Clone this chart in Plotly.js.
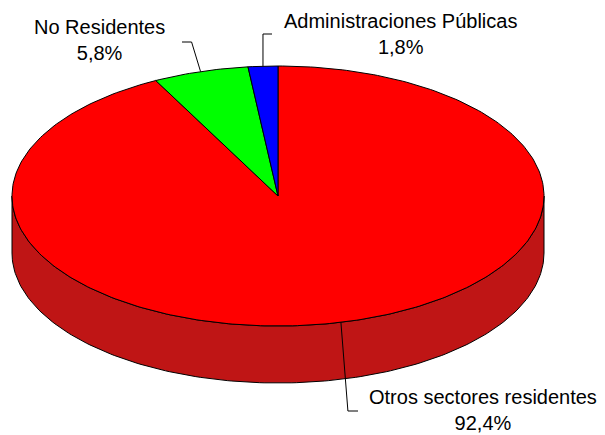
<!DOCTYPE html>
<html>
<head>
<meta charset="utf-8">
<script src="https://cdn.plot.ly/plotly-3.0.1.min.js"></script>
<style>html,body{margin:0;padding:0;background:#fff;}#chart{width:605px;height:435px;}</style>
</head>
<body>
<div id="chart"></div>
<script>
// Data
var categories = ["Otros sectores residentes", "No Residentes", "Administraciones Públicas"];
var values = [92.4, 5.8, 1.8];
var valueLabels = ["92,4%", "5,8%", "1,8%"];
var colors = ["#FF0000", "#00FF00", "#0000FF"];

// Geometry / style (layout)
var W = 605, H = 435;
var cx = 278, cy = 196, rx = 266, ry = 130, depth = 57;
var sideColor = "#BF1515";
var labelPos = [ {x: 483, y: 410}, {x: 99, y: 40}, {x: 400, y: 34} ];
var leaderEnd = [ {dx: 7, y: 411, ex: 358}, {dx: -9, y: 42, ex: 182}, {dx: 0, y: 34, ex: 272} ];

function pt(deg, dy) {
  var t = deg * Math.PI / 180;
  return [cx + rx * Math.cos(t), cy - ry * Math.sin(t) + (dy || 0)];
}
function arc(a0, a1, dy) {
  var n = Math.max(2, Math.ceil(Math.abs(a1 - a0)));
  var xs = [], ys = [];
  for (var i = 0; i <= n; i++) {
    var p = pt(a0 + (a1 - a0) * i / n, dy);
    xs.push(p[0]); ys.push(p[1]);
  }
  return [xs, ys];
}

var traces = [];
// side (front half of cylinder)
var topA = arc(180, 360, 0), botA = arc(360, 180, depth);
traces.push({
  type: "scatter", mode: "lines", fill: "toself",
  x: topA[0].concat(botA[0]).concat([topA[0][0]]),
  y: topA[1].concat(botA[1]).concat([topA[1][0]]),
  fillcolor: sideColor, line: {color: "#000", width: 1},
  hoverinfo: "skip", showlegend: false
});

// top face wedges, clockwise from 12 o'clock
var total = values.reduce(function (a, b) { return a + b; }, 0);
var start = 90;
var annotations = [];
for (var k = 0; k < values.length; k++) {
  var sweep = values[k] / total * 360;
  var end = start - sweep;
  var a = arc(start, end, 0);
  traces.push({
    type: "scatter", mode: "lines", fill: "toself",
    x: [cx].concat(a[0]).concat([cx]),
    y: [cy].concat(a[1]).concat([cy]),
    fillcolor: colors[k], line: {color: "#000", width: 1},
    hoverinfo: "skip", showlegend: false, name: categories[k]
  });
  var mid = pt((start + end) / 2, 0);
  var le = leaderEnd[k];
  traces.push({
    type: "scatter", mode: "lines",
    x: [mid[0], mid[0] + le.dx, le.ex],
    y: [mid[1], le.y, le.y],
    line: {color: "#000", width: 1},
    hoverinfo: "skip", showlegend: false
  });
  annotations.push({
    x: labelPos[k].x, y: labelPos[k].y, xref: "x", yref: "y",
    text: categories[k] + "<br>" + valueLabels[k],
    showarrow: false, xanchor: "center", yanchor: "middle", align: "center",
    font: {family: "Liberation Sans, Arial, sans-serif", size: 20, color: "#000"}
  });
  start = end;
}

var layout = {
  width: W, height: H, autosize: false,
  margin: {l: 0, r: 0, t: 0, b: 0},
  paper_bgcolor: "#fff", plot_bgcolor: "#fff",
  xaxis: {range: [0, W], visible: false, fixedrange: true},
  yaxis: {range: [H, 0], visible: false, fixedrange: true},
  annotations: annotations,
  showlegend: false
};
Plotly.newPlot("chart", traces, layout, {displayModeBar: false, staticPlot: true});
</script>
</body>
</html>
